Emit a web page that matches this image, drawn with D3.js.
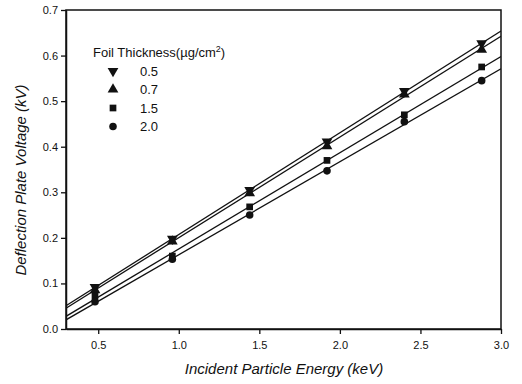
<!DOCTYPE html>
<html>
<head>
<meta charset="utf-8">
<script src="https://cdn.jsdelivr.net/npm/d3@7"></script>
<style>
  body { margin: 0; background: #fff; }
  text { font-family: "Liberation Sans", Arial, sans-serif; fill: #111; }
</style>
</head>
<body>
<svg width="522" height="384"></svg>
<script>
// data
const energy = [0.48, 0.96, 1.44, 1.92, 2.40, 2.88];
const thickness = ["0.5", "0.7", "1.5", "2.0"];
const v05 = [0.092, 0.198, 0.305, 0.411, 0.522, 0.627];
const v07 = [0.085, 0.192, 0.298, 0.401, 0.515, 0.613];
const v15 = [0.072, 0.160, 0.268, 0.370, 0.470, 0.575];
const v20 = [0.060, 0.153, 0.250, 0.347, 0.455, 0.545];
const symbols = ["down", "up", "square", "circle"];
const xTicks = [0.5, 1.0, 1.5, 2.0, 2.5, 3.0];
const yTicks = [0.0, 0.1, 0.2, 0.3, 0.4, 0.5, 0.6, 0.7];

const series = [v05, v07, v15, v20];

const svg = d3.select("svg");
const pLeft = 66, pRight = 501, pTop = 10, pBottom = 329;

const x = d3.scaleLinear().domain([0.3, 3.0]).range([pLeft, pRight]);
const y = d3.scaleLinear().domain([0, 0.7]).range([pBottom, pTop]);

// frame
svg.append("rect")
    .attr("x", pLeft).attr("y", pTop)
    .attr("width", pRight - pLeft).attr("height", pBottom - pTop)
    .attr("fill", "none").attr("stroke", "#111").attr("stroke-width", 1.5);

const xAxis = svg.append("g")
    .attr("transform", "translate(0," + pBottom + ")")
    .call(d3.axisBottom(x).tickValues(xTicks).tickFormat(d3.format(".1f")).tickSize(5).tickSizeOuter(0));
const yAxis = svg.append("g")
    .attr("transform", "translate(" + pLeft + ",0)")
    .call(d3.axisLeft(y).tickValues(yTicks).tickFormat(d3.format(".1f")).tickSize(5).tickSizeOuter(0));

[xAxis, yAxis].forEach(a => {
    a.select(".domain").attr("stroke", "#111").attr("stroke-width", 1.5);
    a.selectAll(".tick line").attr("stroke", "#111").attr("stroke-width", 1.3);
    a.selectAll(".tick text").attr("font-size", 11).attr("fill", "#111")
        .style("font-family", "'Liberation Sans', Arial, sans-serif");
});
xAxis.selectAll(".tick text").attr("dy", "1.1em");

// least squares fit lines across the whole plot
function fit(vals) {
    const mx = d3.mean(energy), my = d3.mean(vals);
    let sxy = 0, sxx = 0;
    energy.forEach((e, i) => { sxy += (e - mx) * (vals[i] - my); sxx += (e - mx) * (e - mx); });
    const b = sxy / sxx;
    return [b, my - b * mx];
}

svg.append("clipPath").attr("id", "plot")
    .append("rect").attr("x", pLeft).attr("y", pTop).attr("width", pRight - pLeft).attr("height", pBottom - pTop);

series.forEach(vals => {
    const [b, a] = fit(vals);
    const ends = x.domain();
    svg.append("line")
        .attr("clip-path", "url(#plot)")
        .attr("x1", x(ends[0])).attr("y1", y(a + b * ends[0]))
        .attr("x2", x(ends[1])).attr("y2", y(a + b * ends[1]))
        .attr("stroke", "#111").attr("stroke-width", 1.3);
});

function symbolPath(kind) {
    if (kind === "down" || kind === "up") return d3.symbol(d3.symbolTriangle, 50)();
    if (kind === "square") return d3.symbol(d3.symbolSquare, 45)();
    return d3.symbol(d3.symbolCircle, 45)();
}

function drawMark(g, kind, cx, cy) {
    g.append("path")
        .attr("d", symbolPath(kind))
        .attr("transform", "translate(" + cx + "," + cy + ")" + (kind === "down" ? " rotate(180)" : ""))
        .attr("fill", "#111");
}

series.forEach((vals, s) => {
    const g = svg.append("g");
    vals.forEach((v, i) => drawMark(g, symbols[s], x(energy[i]), y(v)));
});

// legend
const legend = svg.append("g");
legend.append("text").attr("x", 93).attr("y", 57).attr("font-size", 13)
    .html("Foil Thickness(\u00b5g/cm<tspan dy='-5' font-size='9'>2</tspan><tspan dy='5'>)</tspan>");
thickness.forEach((t, i) => {
    const ly = 71 + i * 18.5;
    drawMark(legend, symbols[i], 113, ly);
    legend.append("text").attr("x", 140).attr("y", ly + 4.5).attr("font-size", 13).text(t);
});

// axis titles
svg.append("text")
    .attr("x", 284).attr("y", 374)
    .attr("text-anchor", "middle").attr("font-size", 15).attr("font-style", "italic")
    .text("Incident Particle Energy (keV)");
svg.append("text")
    .attr("transform", "translate(26,180) rotate(-90)")
    .attr("text-anchor", "middle").attr("font-size", 15).attr("font-style", "italic")
    .text("Deflection Plate Voltage (kV)");
</script>
</body>
</html>
